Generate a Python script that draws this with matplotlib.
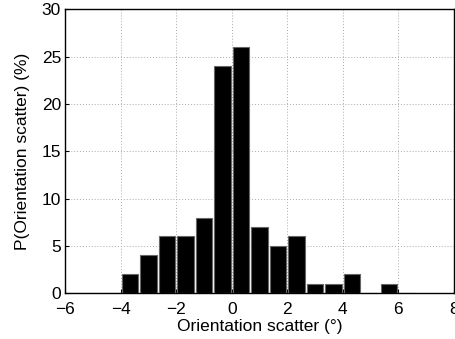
import numpy as np
import matplotlib.pyplot as plt

plt.rcParams['font.family'] = ['Liberation Sans', 'DejaVu Sans']

# bin centres (width 2/3 deg) and percentages
centers = [-5.67, -5.0, -4.33, -3.67, -3.0, -2.33, -1.67, -1.0, -0.33,
           0.33, 1.0, 1.67, 2.33, 3.0, 3.67, 4.33, 5.0, 5.67, 6.33]
percent = [0, 0, 0, 2, 4, 6, 6, 8, 24, 26, 7, 5, 6, 1, 1, 2, 0, 1, 0]
xticks = [-6, -4, -2, 0, 2, 4, 6, 8]
yticks = [0, 5, 10, 15, 20, 25, 30]

fig = plt.figure(figsize=(4.56, 3.39), dpi=100)
ax = fig.add_axes([0.143, 0.135, 0.852, 0.8376])

ax.bar(centers, percent, width=0.6, color='black', edgecolor='#666666',
       linewidth=0.8, zorder=3)

ax.set_xlim(-6, 8)
ax.set_ylim(0, 30)
ax.set_xticks(xticks)
ax.set_yticks(yticks)
ax.set_xticklabels([str(t).replace('-', '\u2212') for t in xticks])
ax.tick_params(direction='in', length=3, labelsize=12.5)
ax.tick_params(axis='x', pad=6)
ax.tick_params(axis='y', pad=3)
ax.grid(True, linestyle=(0, (1, 2)), color='#aaaaaa', linewidth=0.7, zorder=0)
for s in ax.spines.values():
    s.set_linewidth(1.0)
    s.set_zorder(2)

ax.set_xlabel('Orientation scatter (\u00b0)', fontsize=12.5, labelpad=2)
ax.set_ylabel('P(Orientation scatter) (%)', fontsize=12.5, labelpad=8)

fig.savefig('out.png', dpi=100)
